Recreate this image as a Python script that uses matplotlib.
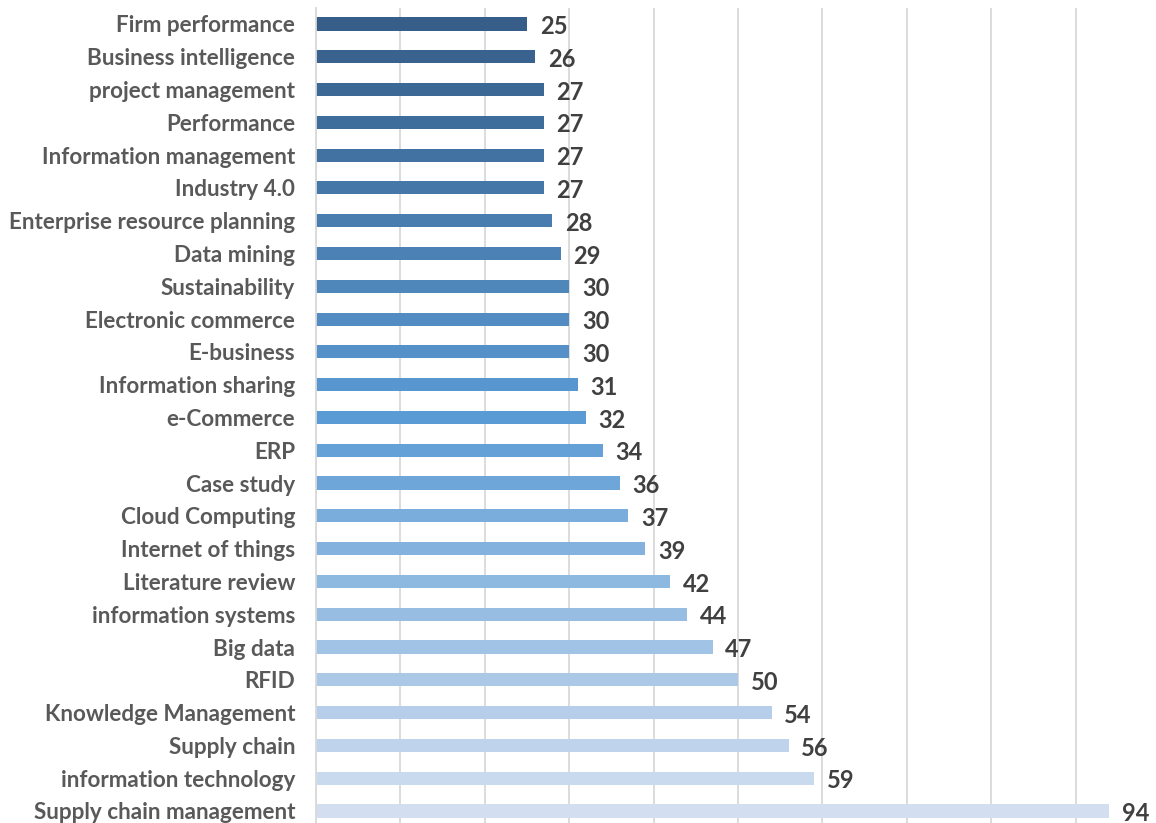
import numpy as np
import matplotlib.pyplot as plt
from matplotlib.colors import LinearSegmentedColormap

keywords = ["Firm performance", "Business intelligence", "project management",
            "Performance", "Information management", "Industry 4.0",
            "Enterprise resource planning", "Data mining", "Sustainability",
            "Electronic commerce", "E-business", "Information sharing",
            "e-Commerce", "ERP", "Case study", "Cloud Computing",
            "Internet of things", "Literature review", "information systems",
            "Big data", "RFID", "Knowledge Management", "Supply chain",
            "information technology", "Supply chain management"]
counts = [25, 26, 27, 27, 27, 27, 28, 29, 30, 30, 30, 31, 32, 34, 36, 37,
          39, 42, 44, 47, 50, 54, 56, 59, 94]

plt.rcParams['font.family'] = ['Lato', 'DejaVu Sans']

fig = plt.figure(figsize=(11.56, 8.23), dpi=100)
ax = fig.add_axes([0.2734, -0.0053, 0.730, 0.9961])

# dark-to-light blue shading down the list
shade = LinearSegmentedColormap.from_list(
    "blues", ["#365E88", "#5B9BD5", "#D3DFF0"])
n = len(keywords)
colors = [shade(i / (n - 1)) for i in range(n)]

y = np.arange(n)
ax.barh(y, counts, height=0.4, color=colors, zorder=2)
for yi, v in zip(y, counts):
    ax.text(v + 1.5, yi + 0.08, str(v), va="center", ha="left", fontsize=17,
            fontweight="bold", color="#404040")

ax.set_xlim(0, 100)
ax.set_ylim(n - 0.5, -0.5)
ax.set_xticks(np.arange(0, 101, 10))
ax.set_xticklabels([])
ax.tick_params(axis="x", length=0)
ax.tick_params(axis="y", length=0, pad=15)
ax.set_yticks(y)
ax.set_yticklabels(keywords, fontsize=16.2, fontweight="bold", color="#595959")
ax.grid(axis="x", color="#D9D9D9", linewidth=1.3, zorder=0)
for s in ["top", "right", "bottom"]:
    ax.spines[s].set_visible(False)
ax.spines["left"].set_color("#D9D9D9")
ax.spines["left"].set_linewidth(1.3)

fig.savefig("out.png", dpi=100)
